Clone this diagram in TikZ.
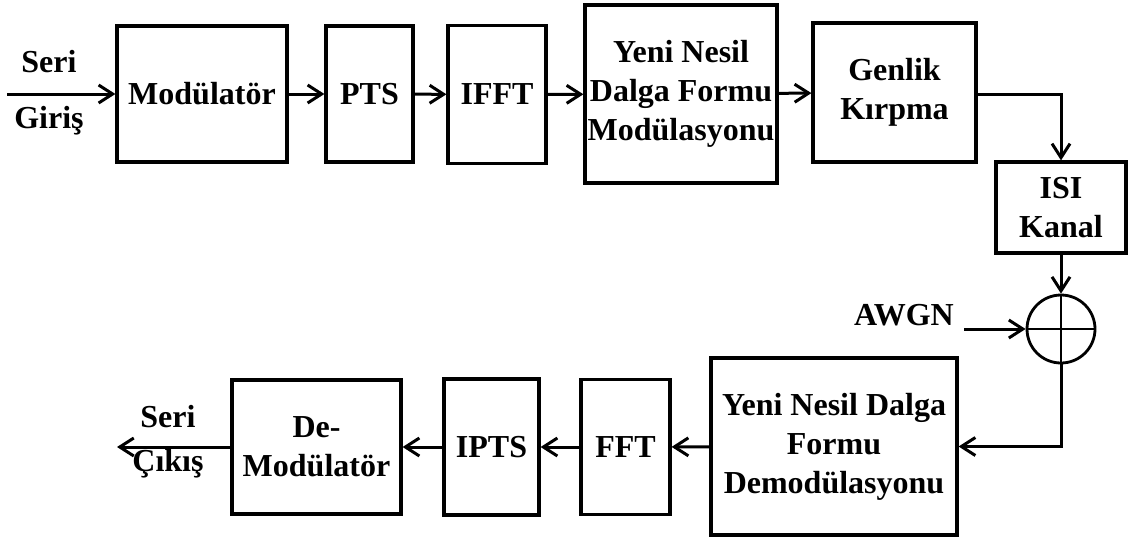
\documentclass[tikz,border=0pt]{standalone}
\usepackage{fontspec}
\setmainfont{Liberation Serif}
\usetikzlibrary{shapes,arrows.meta}

\tikzset{
	blok/.style={draw, line width=1.6pt, align=center, inner sep=0pt,
		font=\bfseries\fontsize{16}{19.5}\selectfont},
	yazi/.style={align=center, inner sep=0pt,
		font=\bfseries\fontsize{16}{19.5}\selectfont},
	ok/.style={line width=1.5pt,
		-{Straight Barb[length=7pt,width=9pt,line width=1.5pt]}}
}

\begin{document}
\begin{tikzpicture}[x=0.5pt, y=-0.5pt]
		\useasboundingbox (0,0) rectangle (1129,537);
		% ust satir: verici
		\coordinate (giris) at (7,94);
		\node [yazi] (seri1) at (49,62) {Seri};
		\node [yazi] (giris1) at (49,121) {Giriş};
		\node [blok, minimum width=85pt, minimum height=68pt] (mod) at (202,94) {Modülatör};
		\node [blok, minimum width=43.5pt, minimum height=68pt] (pts) at (369.5,94) {PTS};
		\node [blok, minimum width=49pt, minimum height=69pt] (ifft) at (497,94.5) {IFFT};
		\node [blok, minimum width=96pt, minimum height=89pt] (ynm) at (681,94) {Yeni Nesil\\Dalga Formu\\Modülasyonu};
		\node [blok, minimum width=81.5pt, minimum height=69.5pt] (genlik) at (894.5,92.5) {Genlik\\Kırpma};
		\node [blok, minimum width=65pt, minimum height=45.5pt] (isi) at (1061,207.5) {ISI\\Kanal};
		% toplayici ve gurultu
		\node [draw, circle, line width=1.4pt, minimum size=34pt, inner sep=0pt] (top) at (1061,329) {};
		\node [yazi] (awgn) at (904,315) {AWGN};
		\coordinate (gurultu) at (964,329);
		% alt satir: alici
		\node [blok, minimum width=123pt, minimum height=88.5pt] (ynd) at (834,446.5) {Yeni Nesil Dalga\\Formu\\Demodülasyonu};
		\node [blok, minimum width=44.5pt, minimum height=67.5pt] (fft) at (625.5,447) {FFT};
		\node [blok, minimum width=47.5pt, minimum height=68pt] (ipts) at (491.5,447) {IPTS};
		\node [blok, minimum width=84.5pt, minimum height=67pt] (demod) at (316.5,447) {De-\\Modülatör};
		\coordinate (cikis) at (117,447);
		\node [yazi] (seri2) at (168,417) {Seri};
		\node [yazi] (cikis1) at (168,464) {Çıkış};

		\draw [ok] (giris) -- (mod);
		\draw [ok] (mod) -- (pts);
		\draw [ok] (pts) -- (ifft);
		\draw [ok] (ifft) -- (ynm);
		\draw [ok] (ynm) -- (genlik);
		\draw [ok] ([yshift=-1.2pt]genlik.east) -| (isi.north);
		\draw [ok] (isi) -- (top);
		\draw [ok] (gurultu) -- (top.west);
		\draw [line width=1.4pt] (top.north) -- (top.south);
		\draw [line width=1.4pt] (top.west) -- (top.east);
		\draw [ok] (top.south) |- (ynd.east);
		\draw [ok] (ynd) -- (fft);
		\draw [ok] (fft) -- (ipts);
		\draw [ok] (ipts) -- (demod);
		\draw [ok] (demod) -- (cikis);
\end{tikzpicture}
\end{document}
